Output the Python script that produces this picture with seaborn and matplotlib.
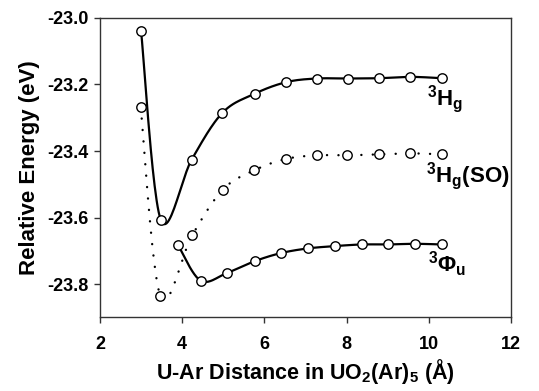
import numpy as np
import pandas as pd
import matplotlib
matplotlib.use("Agg")
import matplotlib.pyplot as plt
import seaborn as sns

# values
hg_x = [3.00, 3.48, 4.23, 4.98, 5.76, 6.53, 7.27, 8.04, 8.80, 9.55, 10.31]
hg_y = [-23.040, -23.607, -23.426, -23.285, -23.228, -23.193, -23.182, -23.182, -23.181, -23.177, -23.181]

so_x = [2.99, 3.47, 4.24, 4.99, 5.75, 6.52, 7.27, 8.02, 8.78, 9.55, 10.31]
so_y = [-23.268, -23.836, -23.654, -23.516, -23.458, -23.424, -23.413, -23.413, -23.410, -23.407, -23.410]

phi_x = [3.90, 4.45, 5.10, 5.77, 6.40, 7.05, 7.71, 8.37, 9.01, 9.66, 10.31]
phi_y = [-23.683, -23.790, -23.766, -23.731, -23.707, -23.693, -23.686, -23.681, -23.681, -23.679, -23.681]

x_ticks = [2, 4, 6, 8, 10, 12]
y_ticks = [-23.0, -23.2, -23.4, -23.6, -23.8]


def smooth(x, y, n=25):
    # Catmull-Rom style smoothing like a spreadsheet "smoothed line"
    p = np.column_stack([x, y]).astype(float)
    p = np.vstack([p[0], p, p[-1]])
    out = []
    t = np.linspace(0, 1, n)[:, None]
    for i in range(1, len(p) - 2):
        p0, p1, p2, p3 = p[i - 1], p[i], p[i + 1], p[i + 2]
        c1 = p1 + (p2 - p0) / 6
        c2 = p2 - (p3 - p1) / 6
        seg = ((1 - t) ** 3) * p1 + 3 * ((1 - t) ** 2) * t * c1 + 3 * (1 - t) * t ** 2 * c2 + t ** 3 * p2
        out.append(seg if i == 1 else seg[1:])
    s = np.vstack(out)
    return pd.DataFrame({"x": s[:, 0], "y": s[:, 1]})


sns.set_style("ticks")
plt.rcParams["font.family"] = ["Liberation Sans", "DejaVu Sans"]
plt.rcParams["mathtext.fontset"] = "custom"
plt.rcParams["mathtext.rm"] = "Liberation Sans:bold"
plt.rcParams["mathtext.bf"] = "Liberation Sans:bold"
plt.rcParams["mathtext.it"] = "Liberation Sans:bold"
plt.rcParams["text.color"] = "black"
plt.rcParams["axes.labelcolor"] = "black"
plt.rcParams["xtick.labelcolor"] = "black"
plt.rcParams["ytick.labelcolor"] = "black"

fig = plt.figure(figsize=(5.39, 3.91), dpi=100)
ax = fig.add_axes([0.1855, 0.1885, 0.7625, 0.7655])

sns.lineplot(data=smooth(hg_x, hg_y), x="x", y="y", ax=ax, color="black", lw=1.6, sort=False)
sns.lineplot(data=smooth(so_x, so_y), x="x", y="y", ax=ax, color="black", lw=1.7, sort=False,
             dashes=False, linestyle=(0, (0.05, 4.8)), dash_capstyle="round")
sns.lineplot(data=smooth(phi_x, phi_y), x="x", y="y", ax=ax, color="black", lw=1.6, sort=False)

for xs, ys in [(hg_x, hg_y), (so_x, so_y), (phi_x, phi_y)]:
    sns.scatterplot(x=xs, y=ys, ax=ax, marker="o", s=46, facecolor="white",
                    edgecolor="black", linewidth=1.0, zorder=5)

ax.text(9.95, -23.245, r"$\mathbf{^{3}H_{g}}$", fontsize=16, ha="left", va="center")
ax.text(9.93, -23.475, r"$\mathbf{^{3}H_{g}(SO)}$", fontsize=16, ha="left", va="center")
ax.text(9.97, -23.74, r"$\mathbf{^{3}Φ_{u}}$", fontsize=16, ha="left", va="center")

ax.set_xlim(2, 12)
ax.set_ylim(-23.9, -23.0)
ax.set_xticks(x_ticks)
ax.set_yticks(y_ticks)
ax.set_xticklabels([str(v) for v in x_ticks], fontsize=13, fontweight="bold", color="black")
ax.set_yticklabels([f"{v:.1f}" for v in y_ticks], fontsize=13, fontweight="bold", color="black")
ax.tick_params(direction="out", length=4.5, width=1, color="#333333")
ax.tick_params(axis="x", pad=9)
ax.tick_params(axis="y", pad=4)
for s in ax.spines.values():
    s.set_visible(True)
    s.set_color("#333333")
    s.set_linewidth(1.0)

ax.set_xlabel(r"U-Ar Distance in UO$_2$(Ar)$_5$ (Å)", fontsize=15.5, fontweight="bold", labelpad=3)
ax.set_ylabel("Relative Energy (eV)", fontsize=16, fontweight="bold", labelpad=5)

fig.savefig("out.png", dpi=100)
